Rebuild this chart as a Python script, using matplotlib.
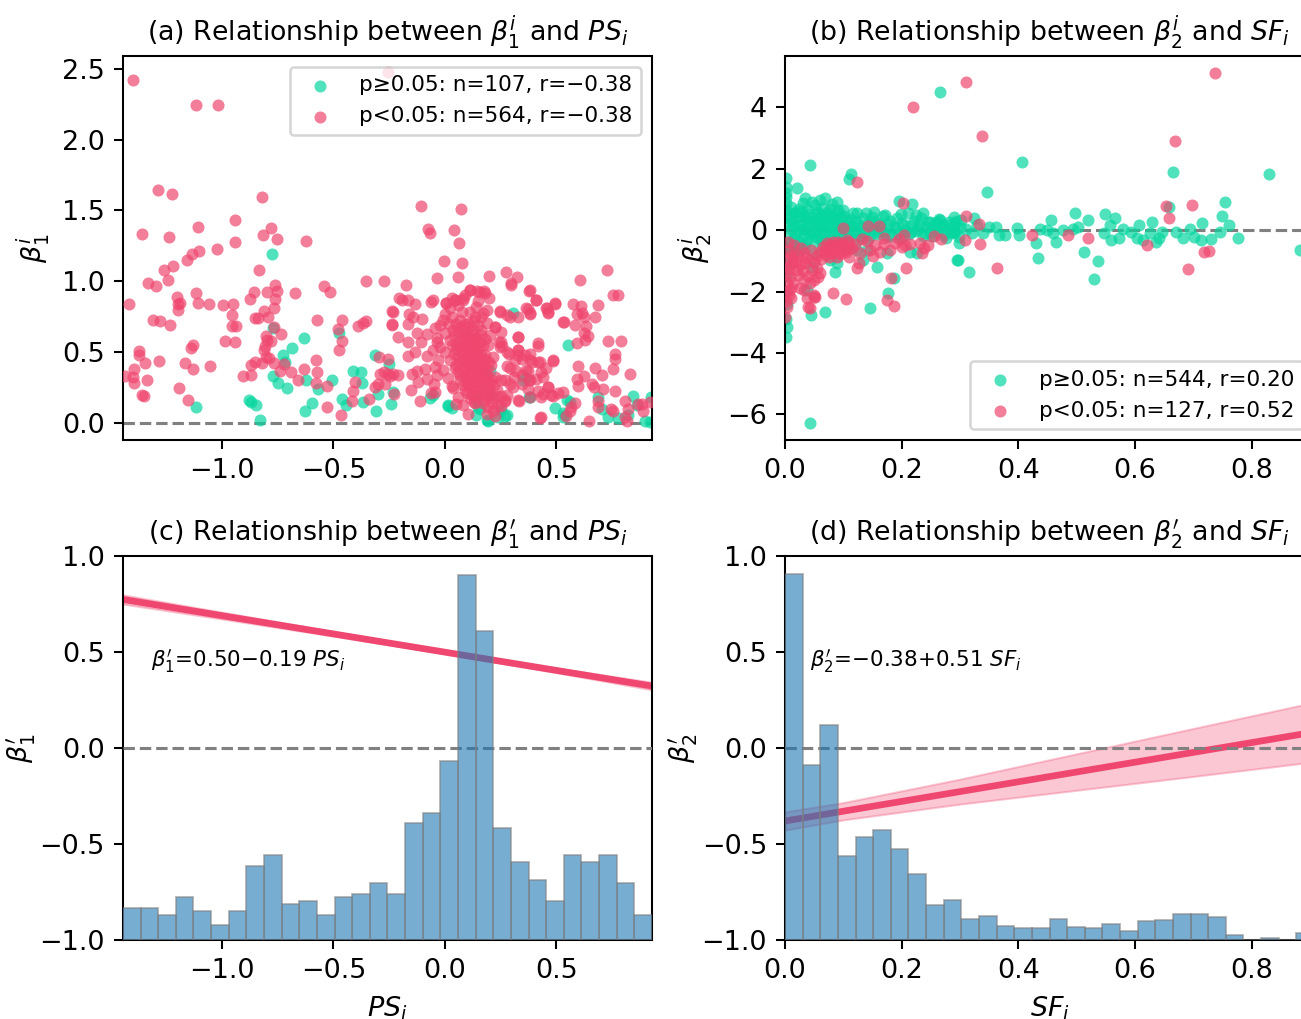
import matplotlib
matplotlib.use('Agg')
import matplotlib.pyplot as plt
import numpy as np

GREEN = '#06d6a0'
RED = '#ef476f'
BAR = '#1f77b4'

# (a) beta_1^i vs PS_i
a_green = [
    (-0.776, 1.196), (-1.118, 0.116), (-0.878, 0.163), (-0.869, 0.151), (-0.848, 0.130),
    (-0.831, 0.021), (-0.772, 0.335), (-0.749, 0.283), (-0.710, 0.248), (-0.727, 0.481),
    (-0.716, 0.429), (-0.684, 0.531), (-0.634, 0.599), (-0.773, 0.670), (-0.627, 0.083),
    (-0.597, 0.142), (-0.567, 0.241), (-0.504, 0.300), (-0.463, 0.170), (-0.442, 0.127),
    (-0.412, 0.370), (-0.376, 0.358), (-0.373, 0.281), (-0.369, 0.151), (-0.307, 0.087),
    (-0.301, 0.205), (-0.313, 0.483), (-0.251, 0.417), (-0.242, 0.134), (-0.473, 0.637),
    (-0.624, 0.300), (0.306, 0.775), (0.366, 0.315), (0.381, 0.186), (0.015, 0.127),
    (0.030, 0.104), (0.142, 0.163), (0.149, 0.115), (0.187, 0.021), (0.254, 0.092),
    (0.277, 0.057), (0.239, 0.045), (0.202, 0.198), (0.553, 0.551), (0.493, 0.104),
    (0.538, 0.057), (-0.052, 0.198), (-0.232, 0.217), (-0.067, 0.177), (0.012, 0.123),
    (0.146, 0.158), (0.157, 0.099), (0.142, 0.057), (0.194, 0.017), (0.272, 0.052),
    (0.377, 0.182), (0.351, 0.300), (0.550, 0.163), (0.688, 0.182), (0.703, 0.099),
    (0.732, 0.040), (0.777, 0.035), (0.845, 0.193), (0.897, 0.017), (0.925, 0.182),
    (0.203, 0.370), (0.530, 0.070), (0.560, 0.150), (0.530, 0.040), (0.820, 0.060),
    (0.860, 0.130), (0.920, 0.010),
]
a_red = [
    (-1.400, 2.420), (-1.115, 2.245), (-1.016, 2.245), (-1.285, 1.644), (-1.222, 1.618),
    (-0.821, 1.597), (-1.360, 1.335), (-1.236, 1.316), (-1.109, 1.384), (-0.940, 1.434),
    (-0.940, 1.278), (-0.815, 1.330), (-0.779, 1.373), (-0.754, 1.297), (-0.622, 1.285),
    (-1.021, 1.229), (-1.104, 1.212), (-1.136, 1.193), (-1.158, 1.151), (-1.221, 1.111),
    (-1.258, 1.080), (-1.240, 1.007), (-1.330, 0.988), (-1.296, 0.967), (-0.834, 1.083),
    (-0.352, 1.005), (-0.272, 1.005), (-0.542, 0.969), (-0.516, 0.925), (-0.673, 0.917),
    (-0.761, 0.972), (-0.751, 0.929), (-0.797, 0.925), (-0.854, 0.927), (-0.872, 0.877),
    (-0.763, 0.877), (-1.201, 0.889), (-1.195, 0.842), (-1.187, 0.849), (-1.197, 0.800),
    (-1.118, 0.917), (-1.107, 0.849), (-1.057, 0.842), (-0.997, 0.833), (-0.951, 0.837),
    (-1.415, 0.837), (-0.957, 0.762), (-0.955, 0.686), (-0.937, 0.686), (-0.940, 0.571),
    (-0.987, 0.578), (-1.310, 0.724), (-1.276, 0.722), (-1.233, 0.689), (-0.767, 0.814),
    (-0.813, 0.788), (-0.793, 0.748), (-0.851, 0.741), (-0.837, 0.741), (-0.767, 0.677),
    (-0.737, 0.625), (-0.801, 0.611), (-0.797, 0.587), (-0.806, 0.547), (-0.810, 0.512),
    (-0.781, 0.578), (-0.803, 0.469), (-0.788, 0.460), (-0.818, 0.425), (-0.852, 0.434),
    (-0.869, 0.406), (-0.767, 0.425), (-0.722, 0.417), (-0.739, 0.366), (-0.688, 0.363),
    (-0.657, 0.304), (-0.631, 0.380), (-0.573, 0.724), (-0.579, 0.446), (-0.573, 0.363),
    (-0.576, 0.283), (-0.530, 0.264), (-0.527, 0.111), (-1.140, 0.531), (-1.131, 0.554),
    (-1.373, 0.507), (-1.370, 0.483), (-1.343, 0.422), (-1.284, 0.441), (-1.167, 0.425),
    (-1.131, 0.380), (-1.052, 0.399), (-1.394, 0.382), (-1.436, 0.335), (-1.397, 0.328),
    (-1.394, 0.281), (-1.336, 0.304), (-1.358, 0.198), (-1.348, 0.189), (-1.194, 0.248),
    (-1.152, 0.163), (-0.904, 0.335), (-0.869, 0.340), (-0.478, 0.663), (-0.461, 0.729),
    (-0.463, 0.578), (-0.475, 0.517), (-0.388, 0.684), (-0.352, 0.717), (-0.369, 0.705),
    (-0.466, 0.057), (-0.413, 0.229), (-0.418, 0.158), (-0.403, 0.292), (-0.339, 0.170),
    (-0.313, 0.252), (-0.296, 0.469), (-0.291, 0.347), (-0.273, 0.358), (-0.299, 0.276),
    (-0.269, 0.276), (-0.257, 0.453), (-0.246, 0.335), (-0.233, 0.783), (-0.239, 0.689),
    (-0.257, 2.474),
    (-0.109, 1.533), (0.072, 1.509), (-0.075, 1.368), (-0.066, 1.342), (0.039, 1.361),
    (0.063, 1.267), (-0.003, 1.142), (0.078, 1.132), (-0.036, 1.021), (0.060, 1.031),
    (0.199, 1.038), (0.274, 1.066), (0.323, 1.031), (0.299, 0.976), (0.729, 1.078),
    (0.608, 1.007), (0.753, 0.901), (0.777, 0.901), (0.378, 0.932), (0.411, 0.870),
    (-0.173, 0.972), (-0.205, 0.884), (-0.190, 0.870), (-0.164, 0.866), (-0.132, 0.842),
    (-0.063, 0.854), (0.004, 0.849), (0.045, 0.870), (0.082, 0.870), (0.112, 0.936),
    (0.145, 0.932), (0.176, 0.932), (0.187, 0.800), (0.164, 0.748), (0.247, 0.790),
    (0.374, 0.802), (0.381, 0.771), (0.459, 0.814), (0.493, 0.842), (0.462, 0.776),
    (0.576, 0.842), (0.610, 0.823), (0.591, 0.771), (0.616, 0.776), (0.623, 0.748),
    (0.688, 0.830), (0.673, 0.748), (0.535, 0.712), (0.586, 0.693), (0.635, 0.684),
    (0.625, 0.634), (0.643, 0.611), (0.628, 0.583), (0.595, 0.564), (0.732, 0.578),
    (0.792, 0.578), (0.762, 0.488), (0.765, 0.453), (0.756, 0.382), (0.831, 0.347),
    (0.598, 0.399), (0.675, 0.389), (0.706, 0.342), (0.625, 0.335), (0.591, 0.311),
    (0.598, 0.264), (0.658, 0.276), (0.670, 0.252), (0.709, 0.241), (0.762, 0.224),
    (0.685, 0.158), (0.688, 0.116), (0.747, 0.099), (0.755, 0.087), (0.810, 0.158),
    (0.822, 0.099), (0.867, 0.134), (0.886, 0.134), (0.919, 0.146), (0.889, 0.087),
    (0.561, 0.087), (0.568, 0.116), (0.586, 0.139), (0.543, 0.052), (0.646, 0.017),
    (0.807, 0.045), (0.816, 0.017), (0.426, 0.035), (0.486, 0.193), (0.529, 0.217),
    (0.463, 0.252), (0.439, 0.205), (0.419, 0.229), (0.333, 0.158), (0.269, 0.158),
    (0.251, 0.193), (0.254, 0.123), (0.214, 0.087), (0.224, 0.047), (0.187, 0.064),
    (0.102, 0.064), (0.052, 0.134), (0.030, 0.264), (-0.045, 0.217), (-0.048, 0.276),
    (-0.112, 0.153), (-0.154, 0.233), (-0.227, 0.205), (-0.209, 0.342), (-0.232, 0.347),
    (-0.254, 0.347), (-0.149, 0.347), (-0.127, 0.370), (-0.090, 0.382), (-0.209, 0.606),
    (-0.239, 0.696), (-0.236, 0.790), (-0.161, 0.771), (-0.142, 0.748), (-0.102, 0.736),
    (-0.164, 0.700), (-0.127, 0.634), (-0.082, 0.630), (-0.037, 0.571), (-0.164, 0.571),
    (-0.105, 0.571), (-0.135, 0.500), (-0.082, 0.476), (-0.164, 0.476), (-0.045, 0.394),
    (-0.082, 0.311), (-0.120, 0.288), (0.224, 0.677), (0.254, 0.642), (0.243, 0.571),
    (0.257, 0.547), (0.329, 0.606), (0.326, 0.512), (0.326, 0.483), (0.287, 0.488),
    (0.344, 0.453), (0.384, 0.488), (0.419, 0.547), (0.389, 0.429), (0.419, 0.429),
    (0.486, 0.436), (0.277, 0.399), (0.318, 0.370), (0.374, 0.370), (0.311, 0.323),
    (0.378, 0.300), (0.344, 0.276), (0.292, 0.276), (0.411, 0.311), (0.374, 0.241),
    (0.269, 0.300),
    (0.112, 0.939), (0.157, 0.928), (0.179, 0.920), (0.082, 0.880), (0.045, 0.869),
    (0.007, 0.845), (0.025, 0.810), (0.060, 0.833), (0.075, 0.786), (0.112, 0.786),
    (0.142, 0.822), (0.134, 0.751), (0.172, 0.775), (0.187, 0.704), (0.105, 0.704),
    (0.067, 0.727), (0.030, 0.751), (-0.008, 0.727), (-0.023, 0.692), (-0.045, 0.669),
    (-0.037, 0.598), (0.000, 0.633), (0.037, 0.657), (0.082, 0.657), (0.127, 0.657),
    (0.164, 0.657), (0.202, 0.622), (0.022, 0.586), (0.067, 0.586), (0.112, 0.586),
    (0.157, 0.574), (0.194, 0.551), (-0.023, 0.539), (-0.052, 0.516), (0.000, 0.504),
    (0.052, 0.516), (0.097, 0.527), (0.142, 0.504), (0.179, 0.480), (0.217, 0.468),
    (-0.030, 0.445), (0.022, 0.445), (0.075, 0.445), (0.120, 0.445), (0.164, 0.433),
    (0.209, 0.410), (-0.008, 0.374), (0.045, 0.386), (0.090, 0.374), (0.134, 0.363),
    (0.179, 0.351), (0.224, 0.327), (-0.037, 0.339), (0.015, 0.315), (0.067, 0.304),
    (0.112, 0.304), (0.157, 0.292), (0.202, 0.280), (0.037, 0.245), (0.090, 0.233),
    (0.142, 0.233), (0.187, 0.221), (0.232, 0.233), (0.060, 0.186), (0.112, 0.174),
    (0.172, 0.163), (0.217, 0.174), (0.269, 0.163), (0.082, 0.127), (0.134, 0.139),
    (0.194, 0.115), (0.247, 0.786), (0.277, 0.763), (0.299, 0.986), (0.381, 0.939),
    (0.411, 0.869), (0.366, 0.810), (0.381, 0.775), (0.456, 0.810), (0.493, 0.845),
    (0.463, 0.786), (0.530, 0.716), (0.329, 0.751), (0.291, 0.751), (0.224, 0.680),
    (0.254, 0.574), (0.247, 0.539), (0.329, 0.610), (0.418, 0.563), (0.277, 0.504),
    (0.329, 0.516), (0.359, 0.480), (0.381, 0.445), (0.426, 0.433), (0.486, 0.445),
    (0.314, 0.445), (0.291, 0.386), (0.366, 0.374), (0.433, 0.363), (0.456, 0.386),
    (0.344, 0.339), (0.381, 0.304), (0.441, 0.327), (0.254, 0.304), (0.306, 0.257),
    (0.463, 0.257), (0.478, 0.198), (0.508, 0.210), (0.381, 0.186), (0.433, 0.186),
    (0.277, 0.198), (0.329, 0.163), (0.433, 0.045), (-0.060, 0.210), (-0.052, 0.869),
    (0.095, 0.620), (0.125, 0.520), (0.150, 0.470), (0.105, 0.420), (0.140, 0.400),
    (0.160, 0.360), (0.120, 0.340), (0.100, 0.480), (0.130, 0.600), (0.085, 0.560),
    (0.170, 0.420), (0.110, 0.260), (0.150, 0.320), (0.060, 0.360), (0.180, 0.300),
    # the dense core around PS ~ 0.1
    (0.050, 0.700), (0.070, 0.680), (0.090, 0.700), (0.110, 0.680), (0.130, 0.720),
    (0.150, 0.690), (0.040, 0.620), (0.060, 0.640), (0.080, 0.610), (0.100, 0.590),
    (0.120, 0.630), (0.140, 0.600), (0.160, 0.620), (0.180, 0.590), (0.030, 0.550),
    (0.050, 0.560), (0.070, 0.540), (0.090, 0.560), (0.110, 0.550), (0.130, 0.540),
    (0.150, 0.530), (0.170, 0.550), (0.040, 0.490), (0.060, 0.470), (0.080, 0.500),
    (0.100, 0.460), (0.120, 0.490), (0.140, 0.460), (0.160, 0.490), (0.180, 0.450),
    (0.200, 0.430), (0.050, 0.410), (0.070, 0.420), (0.090, 0.400), (0.110, 0.410),
    (0.130, 0.420), (0.150, 0.390), (0.170, 0.400), (0.190, 0.380), (0.070, 0.340),
    (0.090, 0.330), (0.110, 0.350), (0.130, 0.320), (0.150, 0.340), (0.170, 0.320),
    (0.190, 0.340), (0.210, 0.300), (0.080, 0.270), (0.100, 0.280), (0.120, 0.260),
    (0.140, 0.280), (0.160, 0.250), (0.180, 0.260), (0.200, 0.240), (0.220, 0.270),
    (0.100, 0.210), (0.120, 0.200), (0.140, 0.190), (0.160, 0.210), (0.180, 0.190),
    (0.200, 0.200), (0.230, 0.190), (0.130, 0.150), (0.170, 0.140), (0.210, 0.140),
    (0.240, 0.120), (0.020, 0.700), (0.000, 0.770), (0.030, 0.880), (0.090, 0.900),
    (0.150, 0.860), (0.200, 0.880),
]

# (b) beta_2^i vs SF_i
b_green = [
    (0.265, 4.499), (0.043, 2.114), (0.113, 1.822), (0.109, 1.648), (0.021, 1.355),
    (0.001, 1.680), (0.001, 1.410), (0.001, 1.080), (0.001, 0.870), (0.001, 0.650),
    (0.034, 1.030), (0.031, 0.870), (0.029, 0.600), (0.060, 0.980), (0.069, 1.030),
    (0.089, 0.900), (0.077, 0.700), (0.072, 0.540), (0.057, 0.600), (0.063, 0.490),
    (0.097, 0.380), (0.123, 0.560), (0.138, 0.540), (0.149, 0.430), (0.172, 0.490),
    (0.195, 0.950), (0.199, 0.520), (0.218, 0.840), (0.225, 0.490), (0.237, 0.560),
    (0.261, 0.270), (0.290, 0.430), (0.292, 0.220), (0.295, -0.980), (0.158, -1.190),
    (0.186, -1.570), (0.176, -2.060), (0.145, -2.530), (0.069, -2.680), (0.044, -2.760),
    (0.043, -6.270), (0.003, -3.140), (0.001, -3.490), (0.086, -1.350), (0.089, -1.080),
    (0.077, -0.980), (0.046, -1.190), (0.037, -1.950), (0.226, -0.760), (0.215, -0.700),
    (0.175, -0.760), (0.140, -0.650), (0.123, -0.650), (0.106, -0.540), (0.134, -0.980),
    (0.406, 2.220), (0.665, 1.900), (0.659, 0.740), (0.829, 1.820), (0.346, 1.250),
    (0.754, 0.910), (0.750, 0.450), (0.761, 0.160), (0.777, -0.250), (0.883, -0.650),
    (0.297, -0.980), (0.315, -1.380), (0.434, -0.900), (0.513, -0.730), (0.536, -1.010),
    (0.529, -1.600), (0.431, -0.410), (0.456, 0.330), (0.498, 0.570), (0.519, 0.330),
    (0.549, 0.520), (0.565, 0.400), (0.557, 0.160), (0.607, 0.160), (0.629, 0.270),
    (0.715, 0.240), (0.301, 0.330), (0.324, 0.380),
    (0.350, 0.110), (0.361, 0.110), (0.367, -0.160), (0.378, -0.160), (0.398, 0.080),
    (0.401, -0.160), (0.438, 0.030), (0.450, 0.000), (0.459, -0.090), (0.464, -0.380),
    (0.476, 0.000), (0.493, 0.050), (0.502, 0.110), (0.547, -0.110), (0.559, -0.330),
    (0.573, -0.250), (0.579, 0.030), (0.593, -0.050), (0.604, -0.270), (0.613, -0.330),
    (0.625, -0.090), (0.636, -0.380), (0.642, -0.270), (0.647, -0.050), (0.671, -0.050),
    (0.682, -0.250), (0.694, 0.050), (0.702, -0.220), (0.714, -0.330), (0.731, -0.300),
    (0.745, -0.050), (0.298, -0.430), (0.292, -0.050),
    (0.249, 0.270), (0.266, 0.330), (0.278, 0.160), (0.290, -0.050), (0.298, -0.220),
    (0.002, 0.220), (0.004, -0.180), (0.006, 0.480), (0.008, -0.520), (0.010, 0.030),
    (0.012, 0.310), (0.015, -0.270), (0.018, 0.120), (0.020, -0.080), (0.022, 0.420),
    (0.025, -0.380), (0.028, 0.190), (0.030, -0.230), (0.033, 0.020), (0.036, 0.360),
    (0.038, -0.320), (0.040, 0.160), (0.043, -0.130), (0.046, 0.440), (0.048, -0.060),
    (0.050, 0.270), (0.053, -0.240), (0.056, 0.070), (0.058, 0.320), (0.060, -0.280),
    (0.063, 0.110), (0.066, -0.090), (0.069, 0.390), (0.072, 0.210), (0.075, -0.170),
    (0.078, 0.010), (0.082, 0.290), (0.085, -0.310), (0.088, 0.120), (0.092, -0.110),
    (0.095, 0.240), (0.098, -0.230), (0.102, 0.060), (0.106, 0.310), (0.110, -0.150),
    (0.114, 0.140), (0.118, -0.040), (0.122, 0.280), (0.126, -0.290), (0.130, 0.090),
    (0.135, -0.110), (0.140, 0.210), (0.145, -0.190), (0.150, 0.010), (0.155, 0.260),
    (0.160, -0.140), (0.165, 0.090), (0.170, -0.060), (0.176, 0.210), (0.182, -0.190),
    (0.188, 0.060), (0.194, -0.100), (0.200, 0.240), (0.206, 0.010), (0.212, -0.140),
    (0.218, 0.160), (0.224, -0.040), (0.230, 0.190), (0.236, -0.210), (0.242, 0.110),
    (0.248, -0.090), (0.254, 0.140), (0.260, -0.050), (0.266, 0.100), (0.272, -0.150),
    (0.278, 0.050), (0.284, -0.100), (0.290, 0.090),
    (0.001, -0.600), (0.002, -1.100), (0.001, -1.500), (0.002, -2.000), (0.003, -2.400),
    (0.001, -2.900), (0.002, 1.200), (0.010, 0.750), (0.016, 0.560), (0.024, 0.700),
    (0.040, 0.520), (0.052, 0.800), (0.080, 0.450), (0.090, 0.560), (0.100, 0.650),
    (0.012, -0.700), (0.020, -0.550), (0.035, -0.600), (0.050, -0.750), (0.065, -0.500),
    (0.005, 0.380), (0.009, -0.420), (0.013, 0.150), (0.017, -0.150), (0.021, 0.600),
    (0.024, -0.650), (0.027, 0.450), (0.031, 0.050), (0.034, -0.450), (0.037, 0.680),
    (0.041, 0.300), (0.044, -0.050), (0.047, 0.900), (0.051, -0.380), (0.054, 0.550),
    (0.057, 0.150), (0.061, -0.180), (0.064, 0.720), (0.067, 0.250), (0.070, -0.350),
    (0.074, 0.480), (0.077, 0.100), (0.080, 0.850), (0.084, -0.120), (0.087, 0.380),
    (0.091, 0.650), (0.094, 0.020), (0.097, -0.380), (0.101, 0.450), (0.105, 0.150),
    (0.109, -0.250), (0.113, 0.350), (0.117, 0.550), (0.121, 0.000), (0.125, 0.180),
    (0.129, -0.180), (0.133, 0.400), (0.138, 0.050), (0.143, -0.300), (0.148, 0.300),
    (0.153, 0.600), (0.158, -0.050), (0.163, 0.200), (0.168, 0.450), (0.174, -0.200),
    (0.180, 0.300), (0.186, 0.100), (0.192, 0.400), (0.198, -0.250), (0.204, 0.150),
    (0.210, 0.550), (0.216, -0.050), (0.222, 0.300), (0.228, 0.050), (0.234, 0.400),
    (0.240, -0.100), (0.246, 0.250), (0.252, -0.200), (0.258, 0.050), (0.264, 0.350),
    (0.270, 0.150), (0.276, -0.250), (0.282, 0.250), (0.288, -0.050), (0.294, 0.300),
    (0.300, 0.100), (0.310, 0.020), (0.320, -0.080), (0.330, 0.150), (0.340, -0.100),
]
b_red = [
    (0.219, 4.010), (0.123, 1.570), (0.202, 0.890), (0.267, -0.300), (0.232, -0.410),
    (0.238, -0.600), (0.235, -0.760), (0.208, -1.250), (0.186, -2.470), (0.175, -2.280),
    (0.181, -1.570), (0.105, -2.250), (0.083, -2.040), (0.040, -2.490), (0.042, -2.550),
    (0.049, -2.110), (0.050, -2.170), (0.032, -1.950), (0.123, -1.250), (0.126, -1.080),
    (0.142, 0.130), (0.161, 0.130), (0.100, 0.060), (0.132, -0.300), (0.146, -0.650),
    (0.163, -0.700), (0.155, -0.480), (0.169, -0.470), (0.189, -0.430), (0.204, -0.160),
    (0.206, -0.490), (0.201, -0.540), (0.112, -0.590), (0.109, -0.870), (0.106, -0.330),
    (0.129, -0.760),
    (0.072, -0.430), (0.080, -0.540), (0.086, -0.650), (0.092, -0.700), (0.077, -0.700),
    (0.069, -0.650), (0.083, -0.380), (0.097, -0.430), (0.095, -0.600), (0.103, -0.650),
    (0.075, -0.870), (0.089, -0.870), (0.088, -0.500), (0.078, -0.580), (0.094, -0.520),
    (0.006, -0.650), (0.011, -0.810), (0.003, -0.980), (0.014, -1.080), (0.006, -1.250),
    (0.020, -1.300), (0.009, -1.520), (0.003, -1.730), (0.014, -1.730), (0.006, -1.950),
    (0.011, -2.220), (0.003, -2.490), (0.000, -2.820), (0.014, -0.870), (0.023, -0.810),
    (0.026, -1.140), (0.032, -0.760), (0.034, -1.080), (0.043, -0.980), (0.046, -1.300),
    (0.055, -1.250), (0.060, -1.410), (0.057, -1.520), (0.049, -1.630), (0.043, -1.730),
    (0.032, -1.630), (0.026, -1.900), (0.052, -2.170), (0.037, -2.220),
    (0.065, -0.550), (0.070, -0.800), (0.075, -0.480), (0.080, -0.750), (0.085, -0.560),
    (0.090, -0.400), (0.095, -0.780), (0.100, -0.500), (0.105, -0.700), (0.110, -0.400),
    (0.115, -0.600), (0.120, -0.450), (0.060, -0.700), (0.062, -0.950), (0.005, -0.400),
    (0.008, -1.150), (0.004, -1.400), (0.010, -1.900), (0.007, -2.100), (0.002, -2.300),
    (0.016, -0.500), (0.018, -1.000), (0.022, -1.450), (0.028, -0.600), (0.030, -1.300),
    (0.036, -0.900), (0.040, -1.500), (0.045, -0.650), (0.050, -1.050), (0.055, -0.850),
    (0.140, -0.350), (0.150, -0.850), (0.170, -0.250), (0.180, -0.650), (0.195, -0.300),
    (0.215, -0.450), (0.245, -0.500), (0.255, -0.200),
    (0.311, 4.820), (0.338, 3.060), (0.738, 5.120), (0.668, 2.910), (0.653, 0.780),
    (0.658, 0.380), (0.698, 0.810), (0.311, 0.450), (0.332, 0.190), (0.308, -0.330),
    (0.334, -0.460), (0.364, -1.250), (0.423, -0.160), (0.486, -0.160), (0.519, -0.270),
    (0.620, -0.490), (0.719, -0.700), (0.727, -0.680), (0.691, -1.270),
]

# (c), (d): histogram bar tops on the beta' scale (30 bins each)
c_bar_tops = [-0.832, -0.832, -0.870, -0.777, -0.850, -0.922, -0.850, -0.615, -0.559, -0.813,
              -0.798, -0.870, -0.777, -0.762, -0.704, -0.762, -0.392, -0.340, -0.065, 0.901,
              0.611, -0.414, -0.596, -0.687, -0.798, -0.559, -0.596, -0.559, -0.704, -0.870]
d_bar_tops = [0.906, -0.087, 0.118, -0.560, -0.464, -0.428, -0.525, -0.657, -0.816, -0.789,
              -0.889, -0.875, -0.925, -0.936, -0.936, -0.889, -0.931, -0.939, -0.915, -0.953,
              -0.903, -0.894, -0.866, -0.866, -0.880, -0.976, -1.000, -0.988, -1.000, -0.965]

ps_range = (-1.444, 0.929)
sf_range = (0.0, 0.907)
ps_ticks = [-1.0, -0.5, 0.0, 0.5]
b_yticks = [-6, -4, -2, 0, 2, 4]

# fitted lines and confidence bands
c_line_x = [-1.444, 0.929]
c_line_y = [0.774, 0.323]
c_band_x = [-1.444, -1.0, -0.5, 0.0, 0.5, 0.929]
c_band_lo = [0.750, 0.672, 0.583, 0.492, 0.393, 0.303]
c_band_hi = [0.798, 0.708, 0.607, 0.508, 0.417, 0.343]

d_line_x = [0.0, 0.907]
d_line_y = [-0.380, 0.083]
d_band_x = [0.0, 0.1, 0.3, 0.5, 0.7, 0.907]
d_band_lo = [-0.428, -0.374, -0.292, -0.220, -0.148, -0.072]
d_band_hi = [-0.332, -0.284, -0.162, -0.030, 0.102, 0.238]

leg_a = ['p\u22650.05: n=107, r=\u22120.38', 'p<0.05: n=564, r=\u22120.38']
leg_b = ['p\u22650.05: n=544, r=0.20', 'p<0.05: n=127, r=0.52']

DPI = 185
fig = plt.figure(figsize=(1301 / DPI, 1019 / DPI), dpi=DPI)
W, H = 0.4066, 0.3768
ax_a = fig.add_axes([0.0945, 0.5682, W, H])
ax_b = fig.add_axes([0.6034, 0.5682, W, H])
ax_c = fig.add_axes([0.0945, 0.0775, W, H])
ax_d = fig.add_axes([0.6034, 0.0775, W, H])


def scatter_panel(ax, green, red, labels, loc):
    g = np.array(green)
    r = np.array(red)
    ax.axhline(0, color='gray', ls='--', lw=1.2, zorder=1)
    ax.scatter(g[:, 0], g[:, 1], s=22, color=GREEN, alpha=0.7, linewidths=0, label=labels[0], zorder=2)
    ax.scatter(r[:, 0], r[:, 1], s=22, color=RED, alpha=0.7, linewidths=0, label=labels[1], zorder=3)
    ax.legend(loc=loc, fontsize=8.4, framealpha=0.8)


def hist_panel(ax, tops, rng, line_x, line_y, band_x, band_lo, band_hi):
    edges = np.linspace(rng[0], rng[1], len(tops) + 1)
    tops = np.array(tops)
    ax.fill_between(band_x, band_lo, band_hi, color=RED, alpha=0.3, lw=0.8, zorder=1)
    ax.plot(line_x, line_y, color=RED, lw=2.6, zorder=2)
    ax.axhline(0, color='gray', ls='--', lw=1.2, zorder=3)
    ax.bar(edges[:-1], tops + 1, width=np.diff(edges), bottom=-1, align='edge',
           color=BAR, alpha=0.6, edgecolor='gray', linewidth=0.7, zorder=4)
    ax.set_xlim(rng)
    ax.set_ylim(-1, 1)


scatter_panel(ax_a, a_green, a_red, leg_a, 'upper right')
ax_a.set_xlim(ps_range)
ax_a.set_ylim(-0.12, 2.59)
ax_a.set_xticks(ps_ticks)
ax_a.set_ylabel(r'$\beta_1^i$', fontsize=10.5)
ax_a.set_title(r'(a) Relationship between $\beta_1^i$ and $PS_i$', fontsize=10.4)

scatter_panel(ax_b, b_green, b_red, leg_b, 'lower right')
ax_b.set_xlim(sf_range)
ax_b.set_ylim(-6.83, 5.66)
ax_b.set_yticks(b_yticks)
ax_b.set_ylabel(r'$\beta_2^i$', fontsize=10.5)
ax_b.set_title(r'(b) Relationship between $\beta_2^i$ and $SF_i$', fontsize=10.4)

hist_panel(ax_c, c_bar_tops, ps_range, c_line_x, c_line_y, c_band_x, c_band_lo, c_band_hi)
ax_c.set_xticks(ps_ticks)
ax_c.set_xlabel(r'$PS_i$', fontsize=10.5)
ax_c.set_ylabel(r"$\beta_1'$", fontsize=10.5)
ax_c.set_title(r"(c) Relationship between $\beta_1'$ and $PS_i$", fontsize=10.4)
ax_c.text(-1.32, 0.45, "$\\beta_1'$=0.50\u22120.19 $PS_i$", fontsize=8.3, va='center')

hist_panel(ax_d, d_bar_tops, sf_range, d_line_x, d_line_y, d_band_x, d_band_lo, d_band_hi)
ax_d.set_xlabel(r'$SF_i$', fontsize=10.5)
ax_d.set_ylabel(r"$\beta_2'$", fontsize=10.5)
ax_d.set_title(r"(d) Relationship between $\beta_2'$ and $SF_i$", fontsize=10.4)
ax_d.text(0.043, 0.45, "$\\beta_2'$=\u22120.38+0.51 $SF_i$", fontsize=8.3, va='center')

for ax in (ax_a, ax_b, ax_c, ax_d):
    ax.tick_params(labelsize=10.5)

ax_a.yaxis.set_label_coords(-0.135, 0.5)
ax_b.yaxis.set_label_coords(-0.135, 0.5)
ax_c.yaxis.set_label_coords(-0.16, 0.5)
ax_d.yaxis.set_label_coords(-0.16, 0.5)

fig.savefig('out.png', dpi=DPI)
